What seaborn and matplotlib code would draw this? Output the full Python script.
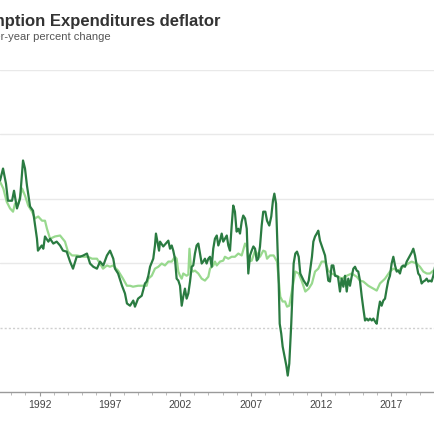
import numpy as np
import pandas as pd
import matplotlib
matplotlib.use("Agg")
import matplotlib.pyplot as plt
import seaborn as sns
from matplotlib.ticker import FixedLocator, MultipleLocator, NullFormatter

# ---- data (year-over-year percent change) ----
headline_years = [
    1989.20, 1989.41, 1989.62, 1989.76, 1990.05, 1990.19, 1990.40, 1990.62, 1990.83, 1990.97,
    1991.11, 1991.33, 1991.54, 1991.82, 1991.89, 1992.16, 1992.27, 1992.39, 1992.63, 1992.75,
    1992.98, 1993.22, 1993.46, 1993.67, 1993.93, 1994.17, 1994.38, 1994.64, 1994.88, 1995.11,
    1995.37, 1995.59, 1995.82, 1996.08, 1996.30, 1996.53, 1996.79, 1997.01, 1997.24, 1997.36,
    1997.58, 1997.86, 1998.07, 1998.21, 1998.43, 1998.66, 1998.78, 1999.00, 1999.26, 1999.49,
    1999.61, 1999.73, 1999.85, 2000.08, 2000.20, 2000.27, 2000.37, 2000.49, 2000.56, 2000.79,
    2001.15, 2001.27, 2001.39, 2001.50, 2001.62, 2001.74, 2001.86, 2001.98, 2002.10, 2002.21,
    2002.33, 2002.45, 2002.57, 2002.69, 2002.81, 2002.92, 2003.04, 2003.16, 2003.28, 2003.40,
    2003.52, 2003.63, 2003.75, 2003.87, 2003.99, 2004.11, 2004.23, 2004.34, 2004.46, 2004.59,
    2004.70, 2004.82, 2004.94, 2005.05, 2005.17, 2005.30, 2005.41, 2005.53, 2005.65, 2005.76,
    2005.88, 2006.00, 2006.12, 2006.24, 2006.36, 2006.47, 2006.60, 2006.72, 2006.83, 2006.95,
    2007.07, 2007.19, 2007.31, 2007.43, 2007.54, 2007.66, 2007.78, 2007.89, 2008.04, 2008.16,
    2008.32, 2008.46, 2008.58, 2008.68, 2008.80, 2008.87, 2008.99, 2009.06, 2009.17, 2009.27,
    2009.41, 2009.53, 2009.63, 2009.74, 2009.88, 2010.05, 2010.17, 2010.29, 2010.41, 2010.52,
    2010.76, 2011.00, 2011.12, 2011.35, 2011.45, 2011.57, 2011.69, 2011.80, 2011.92, 2012.04,
    2012.28, 2012.40, 2012.51, 2012.63, 2012.75, 2012.87, 2012.99, 2013.20, 2013.34, 2013.46,
    2013.58, 2013.70, 2013.82, 2013.93, 2014.05, 2014.17, 2014.29, 2014.41, 2014.53, 2014.64,
    2014.76, 2014.88, 2015.00, 2015.12, 2015.24, 2015.35, 2015.47, 2015.60, 2015.71, 2015.83,
    2015.95, 2016.06, 2016.18, 2016.30, 2016.42, 2016.54, 2016.66, 2016.77, 2016.89, 2017.01,
    2017.13, 2017.25, 2017.37, 2017.48, 2017.60, 2017.72, 2017.84, 2017.96, 2018.08, 2018.19,
    2018.31, 2018.43, 2018.55, 2018.67, 2018.79, 2018.90, 2019.02, 2019.14, 2019.26, 2019.38,
    2019.50, 2019.61, 2019.73, 2019.85, 2019.97, 2020.09,
]
headline_vals = [
    4.57, 4.94, 4.47, 3.94, 3.94, 4.25, 3.70, 4.01, 5.19, 4.94,
    4.41, 3.76, 3.63, 2.76, 2.39, 2.55, 2.45, 2.83, 2.67, 2.76,
    2.61, 2.67, 2.55, 2.39, 2.36, 2.05, 1.83, 2.20, 2.20, 2.24,
    2.30, 1.99, 1.89, 1.83, 2.05, 1.93, 2.24, 2.39, 2.14, 1.83,
    1.68, 1.30, 1.06, 0.75, 0.68, 0.84, 0.65, 0.90, 0.99, 1.37,
    1.43, 1.61, 1.89, 2.14, 2.55, 2.92, 2.67, 2.39, 2.67, 2.52,
    2.70, 2.45, 2.55, 2.39, 2.14, 1.52, 1.46, 1.30, 0.68, 0.96,
    1.21, 0.90, 1.06, 1.43, 1.89, 1.93, 2.30, 2.55, 2.61, 2.30,
    1.99, 2.05, 2.14, 1.99, 2.14, 2.20, 1.89, 2.45, 2.76, 2.86,
    2.55, 2.70, 2.92, 2.67, 2.76, 2.86, 2.55, 2.39, 3.17, 3.79,
    3.60, 2.98, 3.07, 2.92, 3.29, 3.48, 3.39, 3.07, 1.68, 2.24,
    2.39, 2.52, 2.45, 2.08, 2.14, 2.52, 3.17, 3.60, 3.60, 3.32,
    3.17, 3.45, 3.94, 4.16, 3.85, 2.92, 1.37, 0.12, -0.19, -0.59,
    -0.90, -1.18, -1.49, -1.12, 0.12, 1.99, 2.30, 2.36, 2.20, 1.68,
    1.46, 1.30, 1.46, 2.20, 2.67, 2.83, 2.92, 3.01, 2.70, 2.55,
    2.24, 1.83, 1.46, 1.43, 1.93, 1.93, 1.61, 1.58, 1.12, 1.52,
    1.27, 1.61, 1.12, 1.52, 1.30, 1.58, 1.83, 1.89, 1.77, 1.74,
    1.46, 0.99, 0.59, 0.22, 0.28, 0.22, 0.28, 0.22, 0.28, 0.19,
    0.12, 0.50, 0.81, 0.68, 0.84, 0.90, 1.21, 1.46, 1.61, 1.99,
    2.20, 1.93, 1.74, 1.77, 1.68, 1.89, 1.93, 1.89, 2.05, 2.14,
    2.24, 2.33, 2.45, 2.24, 1.93, 1.68, 1.61, 1.37, 1.43, 1.46,
    1.52, 1.43, 1.46, 1.43, 1.61, 1.89,
]

core_years = [
    1989.20, 1989.43, 1989.67, 1989.91, 1990.12, 1990.26, 1990.50, 1990.76, 1990.97, 1991.20,
    1991.47, 1991.68, 1991.91, 1992.18, 1992.39, 1992.53, 1992.75, 1993.10, 1993.46, 1993.81,
    1994.02, 1994.31, 1994.66, 1995.09, 1995.44, 1995.73, 1996.08, 1996.30, 1996.51, 1996.79,
    1997.01, 1997.22, 1997.58, 1997.93, 1998.21, 1998.43, 1998.64, 1999.00, 1999.35, 1999.61,
    1999.73, 1999.97, 2000.20, 2000.44, 2000.68, 2000.91, 2001.15, 2001.39, 2001.62, 2001.74,
    2001.86, 2001.98, 2002.10, 2002.21, 2002.45, 2002.57, 2002.65, 2002.76, 2002.90, 2003.04,
    2003.28, 2003.52, 2003.75, 2003.99, 2004.11, 2004.34, 2004.46, 2004.59, 2004.82, 2005.05,
    2005.17, 2005.41, 2005.65, 2005.88, 2006.12, 2006.36, 2006.60, 2006.72, 2006.83, 2007.07,
    2007.31, 2007.54, 2007.66, 2007.89, 2008.04, 2008.16, 2008.37, 2008.63, 2008.87, 2009.10,
    2009.27, 2009.44, 2009.58, 2009.74, 2009.93, 2010.17, 2010.41, 2010.64, 2010.88, 2011.12,
    2011.35, 2011.57, 2011.80, 2012.04, 2012.28, 2012.51, 2012.75, 2013.11, 2013.46, 2013.82,
    2014.17, 2014.53, 2014.76, 2015.00, 2015.35, 2015.71, 2015.95, 2016.18, 2016.54, 2016.89,
    2017.13, 2017.48, 2017.84, 2018.19, 2018.43, 2018.79, 2019.02, 2019.26, 2019.50, 2019.73,
    2019.97, 2020.09,
]
core_vals = [
    4.53, 4.32, 3.91, 3.70, 3.60, 3.85, 3.85, 4.32, 4.10, 3.79,
    3.60, 3.39, 3.45, 3.32, 3.32, 3.07, 2.76, 2.83, 2.86, 2.67,
    2.36, 2.24, 2.24, 2.20, 2.20, 2.14, 2.14, 1.99, 1.83, 1.93,
    1.89, 1.93, 1.77, 1.52, 1.30, 1.30, 1.27, 1.30, 1.30, 1.30,
    1.52, 1.61, 1.83, 1.89, 1.99, 1.93, 2.05, 2.05, 2.20, 2.14,
    1.74, 1.61, 1.52, 1.68, 1.61, 1.65, 2.45, 1.83, 1.74, 1.77,
    1.68, 1.52, 1.46, 1.58, 1.83, 1.93, 2.05, 1.93, 2.05, 2.08,
    2.20, 2.14, 2.20, 2.20, 2.30, 2.24, 2.61, 2.52, 2.05, 2.08,
    2.39, 2.24, 2.20, 2.39, 2.36, 2.14, 2.24, 2.24, 2.05, 0.96,
    0.81, 0.81, 0.65, 0.68, 1.15, 1.74, 1.68, 1.43, 1.12, 1.21,
    1.37, 1.74, 1.83, 2.05, 2.05, 1.77, 1.68, 1.61, 1.52, 1.61,
    1.68, 1.58, 1.46, 1.43, 1.30, 1.21, 1.15, 1.37, 1.52, 1.74,
    1.83, 1.77, 1.89, 1.99, 2.05, 1.99, 1.89, 1.74, 1.68, 1.68,
    1.77, 1.74,
]

major_tick_years = [1992, 1997, 2002, 2007, 2012, 2017]
grid_levels = [2, 4, 6, 8]

title_text = "Personal Consumption Expenditures deflator"
subtitle_text = "Year-over-year percent change"

# ---- style ----
sns.set_style("white")
plt.rcParams["font.family"] = ["Liberation Sans", "DejaVu Sans"]

DARK = "#2a7b41"
LIGHT = "#98d98e"

fig = plt.figure(figsize=(4.35, 4.35), dpi=100)
ax = fig.add_axes([0.0, 1 - 393 / 435, 1.0, (393 - 71) / 435])

core_df = pd.DataFrame({"year": core_years, "value": core_vals})
head_df = pd.DataFrame({"year": headline_years, "value": headline_vals})

for g in grid_levels:
    ax.axhline(g, color="#e9e9e9", lw=1.0, zorder=0)
ax.axhline(0, color="#cfcfcf", lw=1.0, ls=(0, (1.5, 1.5)), zorder=0)

sns.lineplot(data=core_df, x="year", y="value", ax=ax, color=LIGHT, lw=1.6, zorder=2)
sns.lineplot(data=head_df, x="year", y="value", ax=ax, color=DARK, lw=1.6, zorder=3)

ax.set_xlim(1992 - 39.5 / 14.08, 1992 + 395.5 / 14.08)
ax.set_ylim(-2, 8)

for s in ["top", "left", "right"]:
    ax.spines[s].set_visible(False)
ax.spines["bottom"].set_color("#9a9a9a")
ax.spines["bottom"].set_linewidth(1.0)

ax.xaxis.set_major_locator(FixedLocator(major_tick_years))
ax.set_xticklabels([str(y) for y in major_tick_years])
ax.xaxis.set_minor_locator(MultipleLocator(1))
ax.xaxis.set_minor_formatter(NullFormatter())
ax.tick_params(axis="x", which="major", bottom=True, length=3.2, width=0.8,
               color="#9a9a9a", labelsize=7.5, labelcolor="#444444", pad=1.5)
ax.tick_params(axis="x", which="minor", bottom=True, length=1.8, width=0.6,
               color="#b0b0b0")
ax.set_yticks([])
ax.set_xlabel("")
ax.set_ylabel("")
ax.patch.set_alpha(0)

fig.text(220 / 435, 1 - 26 / 435, title_text, ha="right", va="baseline",
         fontsize=12, fontweight="bold", color="#333333")
fig.text(111 / 435, 1 - 40 / 435, subtitle_text, ha="right", va="baseline",
         fontsize=8, color="#555555")

fig.savefig("out.png", dpi=100)
